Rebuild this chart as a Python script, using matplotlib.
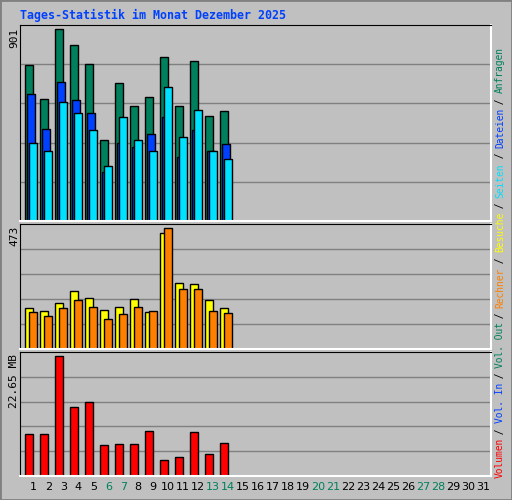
import matplotlib.pyplot as plt
from matplotlib.patches import Rectangle

days = list(range(1, 32))
weekend = [6, 7, 13, 14, 20, 21, 27, 28]

hits = [731, 571, 901, 826, 736, 382, 646, 538, 580, 769, 538, 750, 491, 514]
files = [594, 434, 651, 566, 505, 231, 368, 349, 410, 486, 302, 429, 330, 363]
pages = [368, 330, 557, 509, 429, 259, 486, 382, 330, 627, 392, 519, 330, 292]
visits = [159, 147, 179, 226, 198, 151, 163, 194, 143, 452, 257, 253, 190, 159]
sites = [143, 128, 159, 190, 163, 116, 136, 163, 147, 473, 233, 233, 147, 140]
volume = [8.04, 8.04, 22.65, 12.97, 13.92, 5.96, 6.15, 6.15, 8.61, 3.11, 3.68, 8.42, 4.25, 6.34]

W, H = 512, 500
BG = '#c0c0c0'
fig = plt.figure(figsize=(W / 100, H / 100), dpi=100, facecolor=BG)
fig.patches.append(Rectangle((0, 0), 1, 1, transform=fig.transFigure, fill=False,
                             edgecolor='#808080', lw=2))

def make_ax(top, bottom, ymax):
    ax = fig.add_axes([20 / W, 1 - bottom / H, 471 / W, (bottom - top) / H])
    ax.set_facecolor(BG)
    ax.set_xlim(-1 / 3, -1 / 3 + 471 / 15)
    ax.set_ylim(0, ymax)
    ax.set_yticks([ymax * k / 5 for k in range(1, 5)])
    ax.yaxis.grid(True, color='#808080', lw=1)
    ax.set_axisbelow(True)
    ax.tick_params(left=False, bottom=False, labelleft=False, labelbottom=False)
    for s in ['left', 'top']:
        ax.spines[s].set_color('black')
    for s in ['right', 'bottom']:
        ax.spines[s].set_color('white')
        ax.spines[s].set_linewidth(1.5)
    return ax

px = 1 / 15
kw = dict(align='edge', edgecolor='black', linewidth=1)

ax1 = make_ax(25, 221, 920)
x = list(range(len(hits)))
ax1.bar(x, hits, width=8 * px, color='#00805c', **kw)
ax1.bar([i + 2 * px for i in x], files, width=8 * px, color='#0040ff', **kw)
ax1.bar([i + 4 * px for i in x], pages, width=8 * px, color='#00e0ff', **kw)

ax2 = make_ax(224, 349, 489)
ax2.bar(x, visits, width=8 * px, color='#ffff00', **kw)
ax2.bar([i + 4 * px for i in x], sites, width=8 * px, color='#ff8000', **kw)

ax3 = make_ax(352, 476, 23.47)
ax3.bar(x, volume, width=8 * px, color='#ff0000', **kw)

for d in days:
    ax3.text(d - 1 + 0.55, -0.05, str(d), transform=ax3.get_xaxis_transform(),
             ha='center', va='top', fontsize=8, family='DejaVu Sans',
             color='#00805c' if d in weekend else 'black')

mono = 'DejaVu Sans Mono'
fig.text(20 / W, 1 - 15 / H, 'Tages-Statistik im Monat Dezember 2025', color='#0040ff',
         fontsize=8.4, fontweight='bold', family=mono, va='center', ha='left')
for label, ytop in [('901', 28), ('473', 226), ('22.65 MB', 354)]:
    fig.text(14 / W, 1 - ytop / H, label, rotation=90, ha='center', va='top',
             fontsize=8, family=mono)

parts = [('Volumen', '#ff0000'), ('Vol. In', '#0040ff'), ('Vol. Out', '#00805c'),
         ('Rechner', '#ff8000'), ('Besuche', '#ffff00'), ('Seiten', '#00e0ff'),
         ('Dateien', '#0040ff'), ('Anfragen', '#00805c')]
pos = 0
cw = 5.5
for i, (label, col) in enumerate(parts):
    if i > 0:
        fig.text(500 / W, 1 - (478 - pos * cw) / H, ' / ', rotation=90, rotation_mode='anchor',
                 ha='left', va='center', fontsize=6.9, family=mono, color='black')
        pos += 3
    fig.text(500 / W, 1 - (478 - pos * cw) / H, label, rotation=90, rotation_mode='anchor',
             ha='left', va='center', fontsize=6.9, family=mono, color=col)
    pos += len(label)

fig.savefig('out.png', dpi=100, facecolor=BG)
